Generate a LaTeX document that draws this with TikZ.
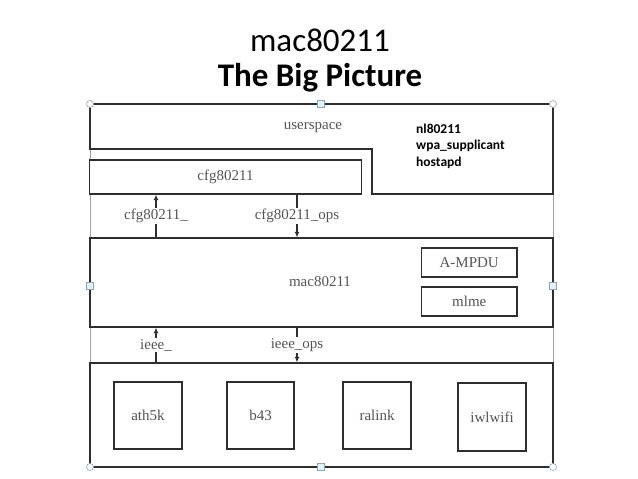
\documentclass[tikz,border=0pt]{standalone}
\usepackage{fontspec}
\setmainfont{Liberation Serif}
\newfontfamily\titlefont{Carlito}
\usetikzlibrary{arrows.meta}
\definecolor{linegray}{HTML}{2E2E2E}
\definecolor{textgray}{HTML}{555555}
\definecolor{framecol}{HTML}{8FA3B2}
\definecolor{handlefill}{HTML}{E3F2FA}
\tikzset{
  box/.style={draw=linegray, line width=1.3pt, fill=white, inner sep=0pt, font=\fontsize{15}{17}\selectfont, text=textgray},
  lbl/.style={fill=white, inner sep=1.5pt, font=\fontsize{15}{17}\selectfont, text=textgray},
  arr/.style={draw=linegray, line width=1.1pt, -{Latex[length=5.5pt,width=5pt]}},
  handlec/.style={draw=framecol, fill=white, line width=0.6pt},
  handles/.style={draw=framecol, fill=handlefill, line width=0.6pt},
}
\begin{document}
\begin{tikzpicture}[x=1pt,y=-1pt]
\useasboundingbox (0,0) rectangle (638,479);
% title
\node[font=\titlefont\fontsize{33}{38}\selectfont] (t1) at (320,40) {mac80211};
\node[font=\titlefont\bfseries\fontsize{33}{38}\selectfont] (t2) at (320,78) {The Big Picture};
% selection frame
\draw[framecol, line width=0.6pt] (90,104) rectangle (553,467);
% userspace shape
\draw[linegray, line width=1.3pt, fill=white] (90,104) -- (553,104) -- (553,194) -- (372,194) -- (372,149) -- (90,149) -- cycle;
\node[lbl, fill=none] (us) at (313,128) {userspace};
\node[anchor=west, align=left, font=\titlefont\bfseries\fontsize{13.5}{16.5}\selectfont, inner sep=0pt] (apps) at (416,146) {nl80211\\wpa\_supplicant\\hostapd};
% boxes
\node[box, minimum width=272pt, minimum height=34pt] (cfg) at (225.5,177) {cfg80211};
\node[box, minimum width=463pt, minimum height=89pt] (mac) at (321.5,282.5) {};
\node[lbl, fill=none] (mactext) at (320,282) {mac80211};
\node[box, minimum width=95.5pt, minimum height=29pt] (ampdu) at (469.25,262.5) {A-MPDU};
\node[box, minimum width=95.5pt, minimum height=29pt] (mlme) at (469.25,301.5) {mlme};
\node[box, minimum width=463pt, minimum height=104pt] (drv) at (321.5,415) {};
\node[box, minimum width=68pt, minimum height=67pt] (ath) at (148,415.5) {ath5k};
\node[box, minimum width=67pt, minimum height=67pt] (b43) at (260.5,415.5) {b43};
\node[box, minimum width=68pt, minimum height=67pt] (ral) at (377,415.5) {ralink};
\node[box, minimum width=68pt, minimum height=68pt] (iwl) at (492,417) {iwlwifi};
% connectors
\coordinate (xa) at (156,0);
\coordinate (xb) at (297,0);
\draw[arr] (mac.north -| xa) -- node[lbl]{cfg80211\_} (cfg.south -| xa);
\draw[arr] (cfg.south -| xb) -- node[lbl]{cfg80211\_ops} (mac.north -| xb);
\draw[arr] (drv.north -| xa) -- node[lbl]{ieee\_} (mac.south -| xa);
\draw[arr] (mac.south -| xb) -- node[lbl]{ieee\_ops} (drv.north -| xb);
% selection handles
\foreach \p in {(90,104),(553,104),(90,467),(553,467)} \draw[handlec] \p circle (3.5pt);
\foreach \p in {(321,104),(321,467),(90,286),(553,286)} \draw[handles] \p ++(-3.5,-3.5) rectangle ++(7,7);
\end{tikzpicture}
\end{document}
